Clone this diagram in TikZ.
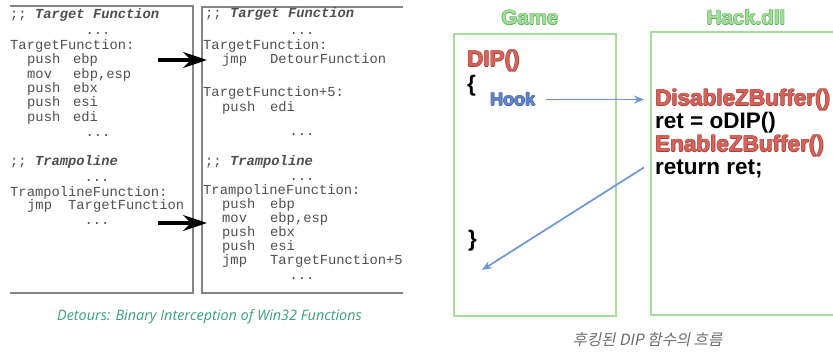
\documentclass[tikz,border=0pt]{standalone}
\usepackage{fontspec}
\setmainfont{Liberation Sans}
\newfontfamily\codefont{Liberation Mono}
\newfontfamily\capfont{Open Sans}
\newfontfamily\krfont[FakeSlant=0.2]{Noto Sans CJK KR}
\usetikzlibrary{arrows.meta}

\definecolor{codegray}{HTML}{505050}
\definecolor{rulegray}{HTML}{858585}
\definecolor{detourgreen}{HTML}{3AA27C}
\definecolor{boxgreen}{HTML}{A8DB9E}
\definecolor{labelfill}{HTML}{A4DE98}
\definecolor{labeledge}{HTML}{56AE5E}
\definecolor{hookred}{HTML}{D6635A}
\definecolor{hookrededge}{HTML}{A8403A}
\definecolor{hookblue}{HTML}{6286CC}
\definecolor{hookblueedge}{HTML}{3E5FA0}
\definecolor{flowblue}{HTML}{6C97D6}
\definecolor{captiongray}{HTML}{6E6E6E}

% text with a thin coloured rim: rim colour, fill colour, text
\newcommand\halotext[3]{%
  \rlap{\color{#1}\kern-0.6pt#3}%
  \rlap{\color{#1}\kern0.6pt#3}%
  \rlap{\color{#1}\raisebox{0.6pt}{#3}}%
  \rlap{\color{#1}\raisebox{-0.6pt}{#3}}%
  {\color{#2}#3}}
% one assembler instruction: operand column width, mnemonic, operand
\newcommand\asmline[3]{\makebox[#1pt][l]{#2}#3}

\tikzset{
  code/.style={font=\codefont\fontsize{13.8}{14}\selectfont, text=codegray,
    inner sep=0pt, anchor=base west},
  dots/.style={code, anchor=base},
  codebox/.style={draw=rulegray, line width=1.2pt},
  detour/.style={line width=3.6pt, -{Stealth[length=24pt,width=16pt]}},
  greenbox/.style={draw=boxgreen, line width=2.2pt},
  title/.style={font=\fontsize{20.5}{22}\selectfont\bfseries, inner sep=0pt, anchor=base},
  big/.style={font=\fontsize{22.5}{24}\selectfont\bfseries, inner sep=0pt, anchor=base west},
  flow/.style={draw=flowblue, line width=1.7pt, -{Stealth[length=10pt,width=8pt]}},
}

\begin{document}
\begin{tikzpicture}[x=1pt, y=-1pt]
\useasboundingbox (0,0) rectangle (833,352);
\fill[white] (0,0) rectangle (833,352);

% ---------- Detours: original function and trampoline ----------
\draw[codebox] (10,6) -- (193,6) -- (193,293) -- (10,293);
\draw[codebox] (403,7) -- (202,7) -- (202,293) -- (403,293);

% left column: before the detour
\node[code] (lhead) at (10,19) {;; \textbf{\textit{Target Function}}};
\node[dots] (ldots1) at (98,35) {...};
\node[code] (llabel) at (10,50) {TargetFunction:};
\node[code] (li1) at (27,64) {\asmline{46}{push}{ebp}};
\node[code] (li2) at (27,79) {\asmline{46}{mov}{ebp,esp}};
\node[code] (li3) at (27,93) {\asmline{46}{push}{ebx}};
\node[code] (li4) at (27,107) {\asmline{46}{push}{esi}};
\node[code] (li5) at (27,122) {\asmline{46}{push}{edi}};
\node[dots] (ldots2) at (98,137) {...};

\node[code] (lthead) at (10,166) {;; \textbf{\textit{Trampoline}}};
\node[dots] (ltdots1) at (97,182) {...};
\node[code] (ltlabel) at (10,197) {TrampolineFunction:};
\node[code] (lt1) at (27,210) {\asmline{41}{jmp}{TargetFunction}};
\node[dots] (ltdots2) at (97,225) {...};

% right column: after the detour
\node[code] (rhead) at (205,18) {;; \textbf{\textit{Target Function}}};
\node[dots] (rdots1) at (302,35) {...};
\node[code] (rlabel) at (203,50) {TargetFunction:};
\node[code] (ri1) at (222,64) {\asmline{48}{jmp}{DetourFunction}};
\node[code] (rlabel2) at (203,97) {TargetFunction+5:};
\node[code] (ri2) at (222,112) {\asmline{48}{push}{edi}};
\node[dots] (rdots2) at (302,136) {...};

\node[code] (rthead) at (205,166) {;; \textbf{\textit{Trampoline}}};
\node[dots] (rtdots1) at (302,181) {...};
\node[code] (rtlabel) at (203,195) {TrampolineFunction:};
\node[code] (rt1) at (222,209) {\asmline{48}{push}{ebp}};
\node[code] (rt2) at (222,223) {\asmline{48}{mov}{ebp,esp}};
\node[code] (rt3) at (222,237) {\asmline{48}{push}{ebx}};
\node[code] (rt4) at (222,251) {\asmline{48}{push}{esi}};
\node[code] (rt5) at (222,265) {\asmline{48}{jmp}{TargetFunction+5}};
\node[dots] (rtdots2) at (302,280) {...};

% the two thick arrows between the columns
\coordinate (d1from) at (158,60);
\coordinate (d1to) at (207,60);
\coordinate (d2from) at (158,223);
\coordinate (d2to) at (207,223);
\draw[detour] (d1from) -- (d1to);
\draw[detour] (d2from) -- (d2to);

\node[font=\capfont\itshape\fontsize{14.4}{16}\selectfont, text=detourgreen,
  inner sep=0pt, anchor=base] (cap1) at (209.5,321)
  {Detours: Binary Interception of Win32 Functions};

% ---------- Hooked DIP call flow ----------
\node[greenbox, anchor=north west, minimum width=162pt, minimum height=282pt,
  inner sep=0pt] (game) at (453,33) {};
\draw[greenbox] (833,32) -- (651,32) -- (651,315) -- (833,315);

\node[title] (gametitle) at (530,25) {\halotext{labeledge}{labelfill}{Game}};
\node[title] (hacktitle) at (746,25) {\halotext{labeledge}{labelfill}{Hack.dll}};

\node[big] (dip) at (467,67) {\halotext{hookrededge}{hookred}{DIP()}};
\node[big] (lbrace) at (467,92) {\{};
\node[font=\fontsize{18}{20}\selectfont\bfseries, inner sep=0pt, anchor=base west]
  (hook) at (490,106) {\halotext{hookblueedge}{hookblue}{Hook}};
\node[big] (rbrace) at (468,247) {\}};

\node[big] (disable) at (655,106) {\halotext{hookrededge}{hookred}{DisableZBuffer()}};
\node[big] (call) at (655,129) {ret = oDIP()};
\node[big] (enable) at (655,152) {\halotext{hookrededge}{hookred}{EnableZBuffer()}};
\node[big] (ret) at (655,175) {return ret;};

\coordinate (back) at (482,270);
\draw[flow] ([xshift=11pt]hook.east) -- ([xshift=-11pt]hook.east -| disable.west);
\draw[flow] ([xshift=-11pt,yshift=2pt]ret.west) -- (back);

\node[font=\krfont\fontsize{15.5}{17}\selectfont, text=captiongray, inner sep=0pt,
  anchor=base] (cap2) at (647.5,346) {후킹된 DIP 함수의 흐름};
\end{tikzpicture}
\end{document}
